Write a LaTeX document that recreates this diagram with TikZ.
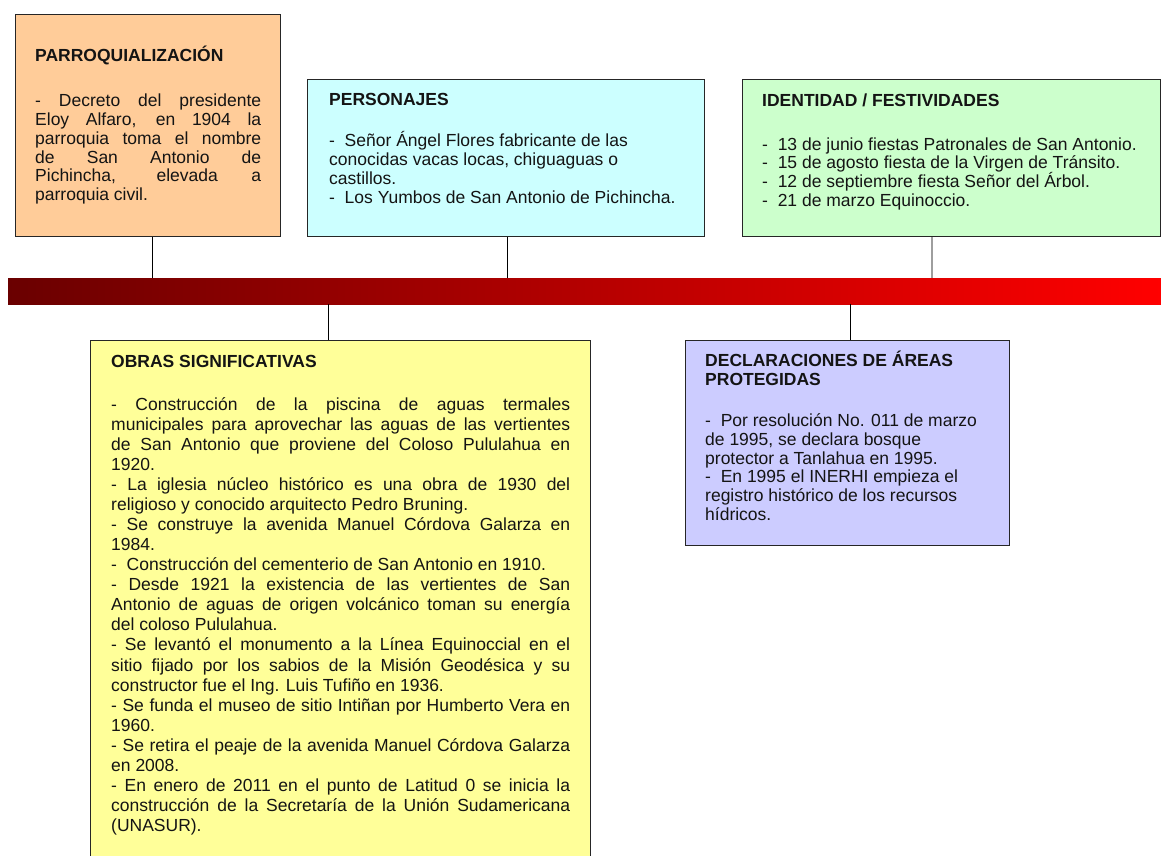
\documentclass[tikz,border=0pt]{standalone}
\usepackage{fontspec}
\setmainfont{Liberation Sans}
\definecolor{peach}{HTML}{FFCC99}
\definecolor{lcyan}{HTML}{CCFFFF}
\definecolor{lgreen}{HTML}{CCFFCC}
\definecolor{lyellow}{HTML}{FFFF99}
\definecolor{lav}{HTML}{CCCCFF}
\definecolor{barL}{HTML}{6A0000}
\definecolor{barR}{HTML}{FF0000}
\definecolor{txtc}{HTML}{141414}
\newcommand{\jl}[1]{\makebox[\linewidth][s]{#1}}
\newcommand{\boxtext}[3]{\parbox[t]{#1}{\fontsize{17.5}{#2}\selectfont #3}}
\tikzset{
  box/.style={draw=black!85, line width=1.3pt, anchor=north west, inner sep=0pt, rectangle},
  conn/.style={draw=black, line width=1.2pt},
  ttl/.style={anchor=base west, inner sep=0pt, text=txtc, font=\fontsize{17.5}{18.7}\selectfont\bfseries},
  txt/.style={anchor=base west, inner sep=0pt, text=txtc},
}
\begin{document}
\begin{tikzpicture}[x=1pt,y=-1pt]
\clip (0,0) rectangle (1161,855);
\fill[white] (0,0) rectangle (1161,855);

% timeline bar
\node[anchor=north west, inner sep=0pt, minimum width=1153pt, minimum height=26pt,
      left color=barL, right color=barR, draw=none] (bar) at (8,278) {};

% boxes
\node[box, fill=peach, minimum width=265pt, minimum height=222pt] (b1) at (15,14) {};
\node[box, fill=lcyan, minimum width=397pt, minimum height=157pt] (b2) at (307,79) {};
\node[box, fill=lgreen, minimum width=418pt, minimum height=157pt] (b3) at (742,79) {};
\node[box, fill=lyellow, minimum width=500pt, minimum height=540pt] (b4) at (90,340) {};
\node[box, fill=lav, minimum width=324pt, minimum height=205pt] (b5) at (685,340) {};

% connectors
\path (b1.south) ++(4.5,0) coordinate (t1);
\path (b2.south) ++(1.5,0) coordinate (t2);
\path (b3.south) ++(-20,0) coordinate (t3);
\path (b4.north) ++(-12,0) coordinate (t4);
\path (b5.north) ++(3,0) coordinate (t5);
\draw[conn] (t1) -- (t1 |- bar.north);
\draw[conn] (t2) -- (t2 |- bar.north);
\draw[conn, draw=black!38, line width=2pt] (t3) -- (t3 |- bar.north);
\draw[conn] (t4) -- (t4 |- bar.south);
\draw[conn] (t5) -- (t5 |- bar.south);

% box 1
\node[ttl] (h1) at (35,61) {PARROQUIALIZACIÓN};
\node[txt] (p1) at (35,106.7) {\boxtext{226pt}{18.8pt}{%
\jl{- Decreto del presidente}\\
\jl{Eloy Alfaro, en 1904 la}\\
\jl{parroquia toma el nombre}\\
\jl{de San Antonio de}\\
\jl{Pichincha, elevada a}\\
parroquia civil.}};

% box 2
\node[ttl] (h2) at (329,105) {PERSONAJES};
\node[txt] (p2) at (329,146.7) {\boxtext{360pt}{18.8pt}{%
-~~Señor Ángel Flores fabricante de las\\
conocidas vacas locas, chiguaguas o\\
castillos.\\
-~~Los Yumbos de San Antonio de Pichincha.}};

% box 3
\node[ttl] (h3) at (762,106) {IDENTIDAD / FESTIVIDADES};
\node[txt] (p3) at (762,150) {\boxtext{390pt}{18.9pt}{%
-~~13 de junio fiestas Patronales de San Antonio.\\
-~~15 de agosto fiesta de la Virgen de Tránsito.\\
-~~12 de septiembre fiesta Señor del Árbol.\\
-~~21 de marzo Equinoccio.}};

% box 4
\node[ttl] (h4) at (111,367.7) {OBRAS SIGNIFICATIVAS};
\node[txt] (p4) at (111,410) {\boxtext{459pt}{20.08pt}{%
\jl{- Construcción de la piscina de aguas termales}\\
\jl{municipales para aprovechar las aguas de las vertientes}\\
\jl{de San Antonio que proviene del Coloso Pululahua en}\\
1920.\\
\jl{- La iglesia núcleo histórico es una obra de 1930 del}\\
religioso y conocido arquitecto Pedro Bruning.\\
\jl{- Se construye la avenida Manuel Córdova Galarza en}\\
1984.\\
-~~Construcción del cementerio de San Antonio en 1910.\\
\jl{- Desde 1921 la existencia de las vertientes de San}\\
\jl{Antonio de aguas de origen volcánico toman su energía}\\
del coloso Pululahua.\\
\jl{- Se levantó el monumento a la Línea Equinoccial en el}\\
\jl{sitio fijado por los sabios de la Misión Geodésica y su}\\
constructor fue el Ing. Luis Tufiño en 1936.\\
\jl{- Se funda el museo de sitio Intiñan por Humberto Vera en}\\
1960.\\
\jl{- Se retira el peaje de la avenida Manuel Córdova Galarza}\\
en 2008.\\
\jl{- En enero de 2011 en el punto de Latitud 0 se inicia la}\\
\jl{construcción de la Secretaría de la Unión Sudamericana}\\
(UNASUR).}};

% box 5
\node[txt] (h5) at (705,366.7) {\boxtext{290pt}{18.4pt}{\bfseries
DECLARACIONES DE ÁREAS\\
PROTEGIDAS}};
\node[txt] (p5) at (705,426.7) {\boxtext{290pt}{18.7pt}{%
-~~Por resolución No. 011 de marzo\\
de 1995, se declara bosque\\
protector a Tanlahua en 1995.\\
-~~En 1995 el INERHI empieza el\\
registro histórico de los recursos\\
hídricos.}};
\end{tikzpicture}
\end{document}
